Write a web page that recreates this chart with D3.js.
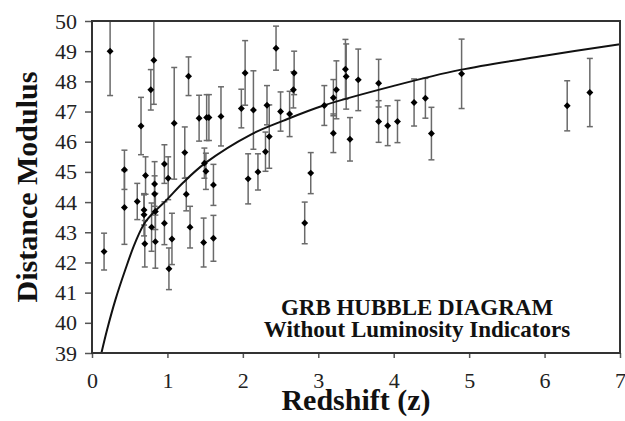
<!DOCTYPE html>
<html>
<head>
<meta charset="utf-8">
<script src="https://cdn.jsdelivr.net/npm/d3@7"></script>
<style>
  body { margin: 0; background: #fff; }
  svg { display: block; }
  .tick text { font-family: "Liberation Serif", "Times New Roman", serif; font-size: 22px; fill: #222; }
  .tick line { stroke: #555; stroke-width: 1.5; }
  .lbl { font-family: "Liberation Serif", "Times New Roman", serif; font-weight: bold; fill: #111; }
</style>
</head>
<body>
<div id="chart"></div>
<script>
//GRB data: redshift, distance modulus, error (1 sigma)
var redshift = [0.16, 0.24, 0.43, 0.43, 0.60, 0.65, 0.69, 0.69, 0.70, 0.71,
                0.78, 0.79, 0.82, 0.83, 0.83, 0.84, 0.84, 0.96, 0.96, 1.01,
                1.02, 1.06, 1.09, 1.23, 1.25, 1.28, 1.30, 1.42, 1.48, 1.49,
                1.51, 1.52, 1.55, 1.61, 1.61, 1.71, 1.98, 2.03, 2.07, 2.14,
                2.20, 2.30, 2.32, 2.35, 2.44, 2.50, 2.62, 2.67, 2.68, 2.82,
                2.90, 3.08, 3.20, 3.20, 3.24, 3.36, 3.37, 3.42, 3.53, 3.80,
                3.80, 3.92, 4.05, 4.27, 4.42, 4.50, 4.90, 6.30, 6.60];
var distMod = [42.36, 49.00, 45.07, 43.82, 44.02, 46.52, 43.74, 43.58, 42.62, 44.88,
               47.72, 43.17, 48.70, 44.60, 44.27, 43.69, 42.69, 45.26, 43.30, 44.79,
               41.79, 42.78, 46.61, 45.64, 44.26, 48.17, 43.17, 46.78, 42.66, 45.29,
               45.02, 46.80, 46.80, 44.57, 42.80, 46.84, 47.10, 48.28, 44.77, 47.05,
               45.00, 45.67, 47.21, 46.17, 49.10, 47.00, 46.92, 47.72, 48.28, 43.31,
               44.96, 47.20, 47.46, 46.28, 47.72, 48.40, 48.16, 46.08, 48.05, 47.94,
               46.67, 46.53, 46.67, 47.30, 47.44, 46.27, 48.25, 47.19, 47.63];
var distErr = [0.61, 1.47, 0.65, 1.22, 0.60, 0.95, 0.50, 0.70, 0.77, 0.62,
               0.67, 0.80, 1.46, 0.74, 0.60, 0.60, 0.88, 0.64, 0.71, 0.71,
               0.69, 0.85, 1.85, 0.85, 0.55, 0.64, 0.69, 0.76, 0.81, 0.50,
               0.60, 0.76, 0.76, 0.68, 0.76, 0.98, 0.64, 1.07, 0.83, 1.30,
               0.60, 0.65, 0.65, 1.05, 0.73, 0.65, 0.75, 0.60, 0.72, 0.69,
               0.68, 0.66, 0.60, 0.64, 0.96, 0.99, 1.08, 0.72, 1.02, 0.79,
               0.69, 0.66, 0.70, 0.78, 0.66, 0.87, 1.15, 0.83, 1.13];

//Hubble curve
var curveZ  = [0.125, 0.20, 0.31, 0.44, 0.57, 0.71, 1.00, 1.21, 1.50, 2.10, 2.54, 3.07, 4.00, 4.88, 6.00, 7.00];
var curveMu = [39.0, 39.77, 40.76, 41.75, 42.64, 43.35, 44.10, 44.65, 45.29, 46.23, 46.70, 47.20, 47.85, 48.38, 48.85, 49.23];

var xTicks = [0, 1, 2, 3, 4, 5, 6, 7];
var yTicks = [39, 40, 41, 42, 43, 44, 45, 46, 47, 48, 49, 50];

var width = 625, height = 421;
var margin = {top: 21, right: 5, bottom: 68, left: 92};

var svg = d3.select("#chart")
    .append("svg")
    .attr("width", width)
    .attr("height", height);

var x = d3.scaleLinear().domain([0, 7]).range([margin.left, width - margin.right]);
var y = d3.scaleLinear().domain([39, 50]).range([height - margin.bottom, margin.top]);

svg.append("clipPath")
    .attr("id", "plot-clip")
    .append("rect")
    .attr("x", x(0))
    .attr("y", y(50))
    .attr("width", x(7) - x(0))
    .attr("height", y(39) - y(50));

//Axes
var xAxis = svg.append("g")
    .attr("transform", "translate(0," + y(39) + ")")
    .call(d3.axisBottom(x).tickValues(xTicks).tickFormat(d3.format("d")).tickSize(5).tickPadding(14));
xAxis.select(".domain").remove();

var yAxis = svg.append("g")
    .attr("transform", "translate(" + x(0) + ",0)")
    .call(d3.axisLeft(y).tickValues(yTicks).tickFormat(d3.format("d")).tickSize(7).tickPadding(8));
yAxis.select(".domain").remove();

var plot = svg.append("g").attr("clip-path", "url(#plot-clip)");

var points = redshift.map(function(z, i) {
    return {z: z, mu: distMod[i], err: distErr[i]};
});

//Error bars
var bars = plot.selectAll(".err")
    .data(points)
    .enter()
    .append("g")
    .attr("class", "err")
    .attr("stroke", "#6a6a6a")
    .attr("stroke-width", 1.5);

bars.append("line")
    .attr("x1", d => x(d.z))
    .attr("x2", d => x(d.z))
    .attr("y1", d => y(d.mu + d.err))
    .attr("y2", d => y(d.mu - d.err));

bars.append("line")
    .attr("x1", d => x(d.z) - 3)
    .attr("x2", d => x(d.z) + 3)
    .attr("y1", d => y(d.mu + d.err))
    .attr("y2", d => y(d.mu + d.err));

bars.append("line")
    .attr("x1", d => x(d.z) - 3)
    .attr("x2", d => x(d.z) + 3)
    .attr("y1", d => y(d.mu - d.err))
    .attr("y2", d => y(d.mu - d.err));

//Model curve
var line = d3.line()
    .x(d => x(d[0]))
    .y(d => y(d[1]))
    .curve(d3.curveCatmullRom.alpha(0.5));

plot.append("path")
    .datum(curveZ.map((z, i) => [z, curveMu[i]]))
    .attr("d", line)
    .attr("fill", "none")
    .attr("stroke", "#111")
    .attr("stroke-width", 2);

//Diamonds
plot.selectAll(".pt")
    .data(points)
    .enter()
    .append("path")
    .attr("class", "pt")
    .attr("d", d3.symbol().type(d3.symbolSquare).size(24))
    .attr("transform", d => "translate(" + x(d.z) + "," + y(d.mu) + ") rotate(45)")
    .attr("fill", "#000");

//Frame
svg.append("rect")
    .attr("x", x(0))
    .attr("y", y(50))
    .attr("width", x(7) - x(0))
    .attr("height", y(39) - y(50))
    .attr("fill", "none")
    .attr("stroke", "#333")
    .attr("stroke-width", 2);

//Labels
svg.append("text")
    .attr("class", "lbl")
    .attr("x", (x(0) + x(7)) / 2)
    .attr("y", 410)
    .attr("text-anchor", "middle")
    .style("font-size", "30px")
    .text("Redshift (z)");

svg.append("text")
    .attr("class", "lbl")
    .attr("transform", "translate(37," + (y(39) + y(50)) / 2 + ") rotate(-90)")
    .attr("text-anchor", "middle")
    .style("font-size", "30px")
    .text("Distance Modulus");

svg.append("text")
    .attr("class", "lbl")
    .attr("x", 417)
    .attr("y", 315)
    .attr("text-anchor", "middle")
    .style("font-size", "23px")
    .text("GRB HUBBLE DIAGRAM");

svg.append("text")
    .attr("class", "lbl")
    .attr("x", 417)
    .attr("y", 337)
    .attr("text-anchor", "middle")
    .style("font-size", "23px")
    .text("Without Luminosity Indicators");
</script>
</body>
</html>
